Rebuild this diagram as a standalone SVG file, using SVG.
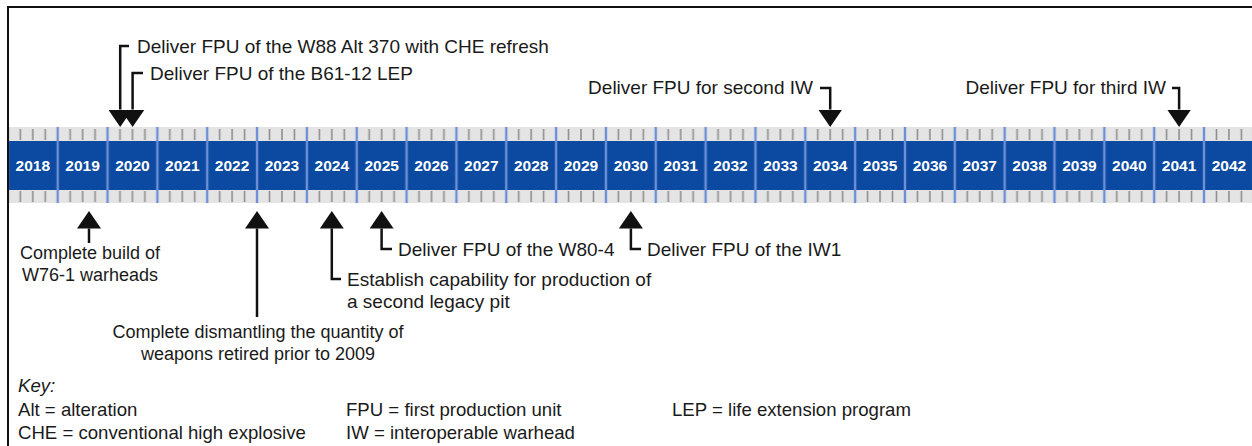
<svg xmlns="http://www.w3.org/2000/svg" width="1252" height="446" viewBox="0 0 1252 446">
<style>
.lbl{font-family:"Liberation Sans",Arial,sans-serif;font-size:19px;fill:#1a1a1a}
.ctr{font-size:18px;text-anchor:middle}
.yr{font-family:"Liberation Sans",Arial,sans-serif;font-size:15.5px;font-weight:bold;fill:#ffffff;text-anchor:middle}
.key{font-family:"Liberation Sans",Arial,sans-serif;font-size:18.6px;fill:#1a1a1a}
.con{fill:none;stroke:#111;stroke-width:2.5;marker-end:url(#ah)}
</style>
<defs>
<marker id="ah" markerUnits="userSpaceOnUse" markerWidth="18" markerHeight="25" refX="0" refY="12" orient="auto">
<path d="M0,0 L17.5,12 L0,24 Z" fill="#111"/>
</marker>
<pattern id="ticks" patternUnits="userSpaceOnUse" x="7.86" y="127" width="49.84" height="76">
<path d="M12.46 2V13M24.92 2V13M37.38 2V13M12.46 64V75M24.92 64V75M37.38 64V75" stroke="#8e8e8e" stroke-width="1.6"/>
<path d="M0 0V76M49.84 0V76" stroke="#6d8fd8" stroke-width="2.4"/>
</pattern>
</defs>
<rect width="1252" height="446" fill="#fff"/>
<path d="M8 446V7H1252" fill="none" stroke="#111" stroke-width="2"/>
<g id="timeline">
<rect x="9" y="127" width="1243" height="14" fill="#e4e4e4"/>
<rect x="9" y="190" width="1243" height="13" fill="#e4e4e4"/>
<rect x="9" y="141" width="1243" height="49" fill="#0b4aa0"/>
<rect x="9" y="127" width="1243" height="76" fill="url(#ticks)"/>
<text class="yr" x="32.8" y="170.5">2018</text>
<text class="yr" x="82.6" y="170.5">2019</text>
<text class="yr" x="132.5" y="170.5">2020</text>
<text class="yr" x="182.3" y="170.5">2021</text>
<text class="yr" x="232.1" y="170.5">2022</text>
<text class="yr" x="282.0" y="170.5">2023</text>
<text class="yr" x="331.8" y="170.5">2024</text>
<text class="yr" x="381.7" y="170.5">2025</text>
<text class="yr" x="431.5" y="170.5">2026</text>
<text class="yr" x="481.3" y="170.5">2027</text>
<text class="yr" x="531.2" y="170.5">2028</text>
<text class="yr" x="581.0" y="170.5">2029</text>
<text class="yr" x="630.9" y="170.5">2030</text>
<text class="yr" x="680.7" y="170.5">2031</text>
<text class="yr" x="730.5" y="170.5">2032</text>
<text class="yr" x="780.4" y="170.5">2033</text>
<text class="yr" x="830.2" y="170.5">2034</text>
<text class="yr" x="880.1" y="170.5">2035</text>
<text class="yr" x="929.9" y="170.5">2036</text>
<text class="yr" x="979.7" y="170.5">2037</text>
<text class="yr" x="1029.6" y="170.5">2038</text>
<text class="yr" x="1079.4" y="170.5">2039</text>
<text class="yr" x="1129.3" y="170.5">2040</text>
<text class="yr" x="1179.1" y="170.5">2041</text>
<text class="yr" x="1228.9" y="170.5">2042</text>
</g>
<g id="connectors">
<path class="con" d="M129 46H120.2V109.5"/>
<path class="con" d="M143 73H132.6V109.5"/>
<path class="con" d="M820 88H830.2V109.5"/>
<path class="con" d="M1172 88H1179.1V109.5"/>
<path class="con" d="M89 243V228.5"/>
<path class="con" d="M257 317V228.5"/>
<path class="con" d="M341 279H331.8V228.5"/>
<path class="con" d="M392 249H381.6V228.5"/>
<path class="con" d="M641 249H630.9V228.5"/>
</g>
<g id="m-w88"><text class="lbl" x="137" y="53">Deliver FPU of the W88 Alt 370 with CHE refresh</text></g>
<g id="m-b61"><text class="lbl" x="150" y="80">Deliver FPU of the B61-12 LEP</text></g>
<g id="m-iw2"><text class="lbl" x="813" y="94" text-anchor="end">Deliver FPU for second IW</text></g>
<g id="m-iw3"><text class="lbl" x="1166" y="94" text-anchor="end">Deliver FPU for third IW</text></g>
<g id="m-w76"><text class="lbl ctr" x="90" y="259">Complete build of</text><text class="lbl ctr" x="90" y="281">W76-1 warheads</text></g>
<g id="m-dismantle"><text class="lbl ctr" x="258" y="338">Complete dismantling the quantity of</text><text class="lbl ctr" x="258" y="360">weapons retired prior to 2009</text></g>
<g id="m-pit"><text class="lbl" x="347" y="286">Establish capability for production of</text><text class="lbl" x="347" y="308">a second legacy pit</text></g>
<g id="m-w80"><text class="lbl" x="398" y="256">Deliver FPU of the W80-4</text></g>
<g id="m-iw1"><text class="lbl" x="647" y="256">Deliver FPU of the IW1</text></g>
<g id="key">
<text class="key" x="18" y="392" font-style="italic">Key:</text>
<text class="key" x="18" y="416">Alt = alteration</text>
<text class="key" x="18" y="439">CHE = conventional high explosive</text>
<text class="key" x="346" y="416">FPU = first production unit</text>
<text class="key" x="346" y="439">IW = interoperable warhead</text>
<text class="key" x="672" y="416">LEP = life extension program</text>
</g>
</svg>
